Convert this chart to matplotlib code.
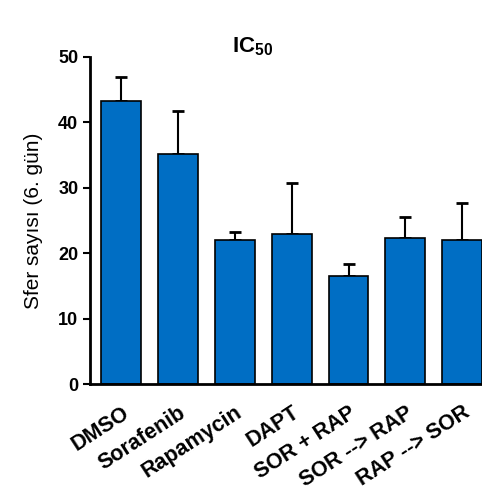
import matplotlib.pyplot as plt
import numpy as np

plt.rcParams['font.family'] = ['Liberation Sans', 'DejaVu Sans']
plt.rcParams['mathtext.fontset'] = 'custom'
plt.rcParams['mathtext.rm'] = 'Liberation Sans'
plt.rcParams['mathtext.bf'] = 'Liberation Sans:bold'

categories = ['DMSO', 'Sorafenib', 'Rapamycin', 'DAPT', 'SOR + RAP', 'SOR --> RAP', 'RAP --> SOR']
means = [43.2, 35.1, 22.0, 22.9, 16.5, 22.4, 22.0]
errors = [3.7, 6.7, 1.3, 7.9, 1.8, 3.2, 5.7]

fig = plt.figure(figsize=(4.82, 4.9), dpi=100)
ax = fig.add_axes([0.187, 0.216, 0.813, 0.668])

x = np.arange(len(categories))
ax.bar(x, means, width=0.7, color='#006EC4', edgecolor='black', linewidth=1.2, zorder=2)
ax.errorbar(x, means, yerr=[np.zeros(len(errors)), errors], fmt='none', ecolor='black',
            elinewidth=1.5, capsize=4, capthick=2, zorder=1)

ax.set_xlim(-0.55, 6.35)
ax.set_ylim(0, 50)
ax.set_yticks([0, 10, 20, 30, 40, 50])
ax.set_xticks(x)
ax.set_xticklabels(categories, rotation=33, ha='right', rotation_mode='anchor',
                   fontsize=15.5, fontweight='bold')
ax.tick_params(axis='x', length=0, pad=13)
ax.tick_params(axis='y', length=5, width=1.5, labelsize=13, direction='out')
for lbl in ax.get_yticklabels():
    lbl.set_fontweight('bold')

for s in ['top', 'right']:
    ax.spines[s].set_visible(False)
ax.spines['left'].set_linewidth(2)
ax.spines['bottom'].set_linewidth(2)

ax.set_ylabel('Sfer sayısı (6. gün)', fontsize=15, labelpad=11)
fig.text(0.525, 0.905, r'IC$_{\mathbf{50}}$', ha='center', va='center', fontsize=16, fontweight='bold')

fig.savefig('out.png', dpi=100)
